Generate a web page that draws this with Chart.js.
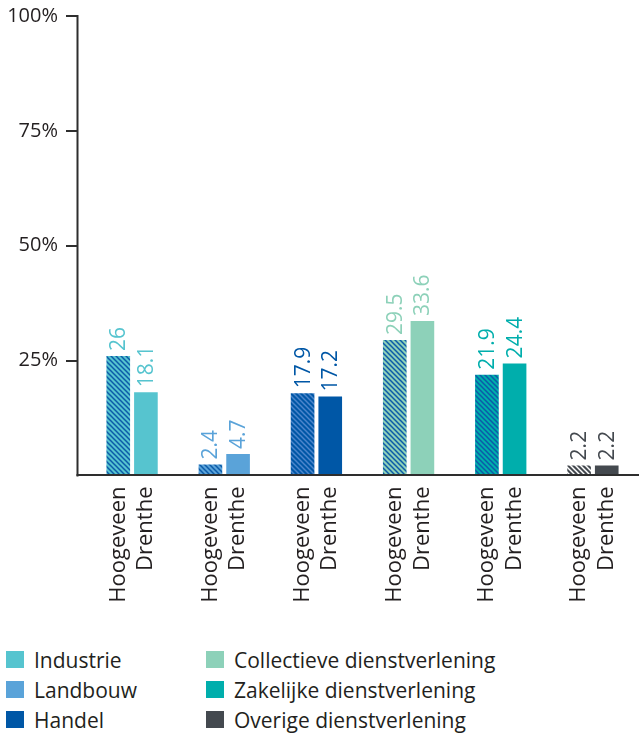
<!DOCTYPE html>
<html><head><meta charset="utf-8">
<script src="https://cdn.jsdelivr.net/npm/chart.js@4"></script>
<style>
body{margin:0;background:#fff;width:639px;height:734px;overflow:hidden;font-family:'Open Sans',sans-serif;position:relative;}
#wrap{position:absolute;left:0;top:0;width:639px;height:620px;}
.leg{position:absolute;display:flex;align-items:center;height:17px;font-size:21px;font-weight:500;color:#231f20;white-space:nowrap;}
.leg i{display:inline-block;width:18px;height:17px;margin-right:10px;flex:none;}
</style></head><body>
<div id="wrap"><canvas id="c" width="639" height="620"></canvas></div>
<div id="legend"></div>
<script>
// ---- data ----
const sectors = ['Industrie','Landbouw','Handel','Collectieve dienstverlening','Zakelijke dienstverlening','Overige dienstverlening'];
const regions = ['Hoogeveen','Drenthe'];
const hoogeveen = [26, 2.4, 17.9, 29.5, 21.9, 2.2];
const drenthe = [18.1, 4.7, 17.2, 33.6, 24.4, 2.2];
const yTickValues = [0, 25, 50, 75, 100];

// ---- styles ----
const sectorColors = ['#56c4cf','#5aa3d9','#0057a6','#8dd1b9','#00aeac','#44494f'];
const hatchColors = ['#0b5aa8','#0b5aa8','#4d86cc','#0b5aa8','#0b5aa8','#ffffff'];
const textColor = '#231f20';
const axisColor = '#2e2e2e';
const FONT = "'Open Sans', sans-serif";

function makeHatch(bg, fg){
  const s = 5;
  const c = document.createElement('canvas');
  c.width = s; c.height = s;
  const x = c.getContext('2d');
  x.fillStyle = bg; x.fillRect(0,0,s,s);
  x.strokeStyle = fg; x.lineWidth = 1.5;
  for (const k of [-s,0,s]) {
    x.beginPath(); x.moveTo(k-1,-1); x.lineTo(k+s+1,s+1); x.stroke();
  }
  return document.getElementById('c').getContext('2d').createPattern(c,'repeat');
}
const hatchFills = sectorColors.map((c,i)=>makeHatch(c, hatchColors[i]));

const axisPlugin = {
  id:'axes',
  afterDatasetsDraw(chart){
    const {ctx, chartArea, scales:{y}} = chart;
    const ax = 77.5;
    ctx.save();
    ctx.strokeStyle = axisColor;
    ctx.lineWidth = 2;
    ctx.beginPath();
    ctx.moveTo(ax, y.getPixelForValue(100)-1);
    ctx.lineTo(ax, chartArea.bottom+1);
    ctx.stroke();
    ctx.beginPath();
    ctx.moveTo(ax-1, 475);
    ctx.lineTo(chart.width, 475);
    ctx.stroke();
    for (const v of yTickValues) {
      if (v === 0) continue;
      const py = Math.round(y.getPixelForValue(v));
      ctx.beginPath(); ctx.moveTo(66, py); ctx.lineTo(ax, py); ctx.stroke();
    }
    ctx.restore();
  }
};

const labelPlugin = {
  id:'vlabels',
  afterDatasetsDraw(chart){
    const ctx = chart.ctx;
    ctx.save();
    ctx.font = '500 21px ' + FONT;
    ctx.textAlign = 'left';
    ctx.textBaseline = 'middle';
    chart.data.datasets.forEach((ds, di)=>{
      chart.getDatasetMeta(di).data.forEach((el, i)=>{
        ctx.save();
        ctx.translate(el.x, el.y - 5);
        ctx.rotate(-Math.PI/2);
        ctx.fillStyle = sectorColors[i];
        ctx.fillText(String(ds.data[i]), 0, 1);
        ctx.restore();
      });
    });
    ctx.restore();
  }
};

new Chart(document.getElementById('c'), {
  type:'bar',
  data:{
    labels: sectors.map(()=>regions.slice()),
    datasets:[
      {label: regions[0], data: hoogeveen, backgroundColor: hatchFills, borderWidth:0},
      {label: regions[1], data: drenthe, backgroundColor: sectorColors, borderWidth:0}
    ]
  },
  options:{
    responsive:false,
    animation:false,
    devicePixelRatio:1,
    categoryPercentage:0.6,
    barPercentage:0.855,
    layout:{padding:{top:16,left:0,right:0,bottom:0}},
    plugins:{legend:{display:false}, tooltip:{enabled:false}},
    scales:{
      x:{
        grid:{display:false, drawTicks:false},
        border:{display:false},
        ticks:{
          color:textColor, autoSkip:false, minRotation:90, maxRotation:90,
          padding:11, labelOffset:-13.75,
          font:{family:FONT, size:22, weight:'500', lineHeight:1.25}
        },
        afterFit(s){ s.height = 144.5; s.paddingLeft = 0; s.paddingRight = 0; s.paddingTop = 0; s.paddingBottom = 0; }
      },
      y:{
        min:0, max:100,
        grid:{display:false, drawTicks:false},
        border:{display:false},
        afterBuildTicks(s){ s.ticks = yTickValues.map(v=>({value:v})); },
        ticks:{
          color:textColor, padding:28,
          font:{family:FONT, size:20, weight:'500'},
          callback:(v)=> v === 0 ? '' : v + '%'
        },
        afterFit(s){ s.width = 86; s.paddingTop = 0; s.paddingBottom = 0; s.paddingLeft = 0; s.paddingRight = 0; }
      }
    }
  },
  plugins:[axisPlugin, labelPlugin]
});

// ---- legend ----
const legend = document.getElementById('legend');
sectors.forEach((name, i)=>{
  const col = Math.floor(i/3), row = i%3;
  const d = document.createElement('div');
  d.className = 'leg';
  d.style.left = (col ? 206 : 6) + 'px';
  d.style.top = (651 + row*30) + 'px';
  const sw = document.createElement('i');
  sw.style.background = sectorColors[i];
  d.appendChild(sw);
  d.appendChild(document.createTextNode(name));
  legend.appendChild(d);
});
</script>
</body></html>
